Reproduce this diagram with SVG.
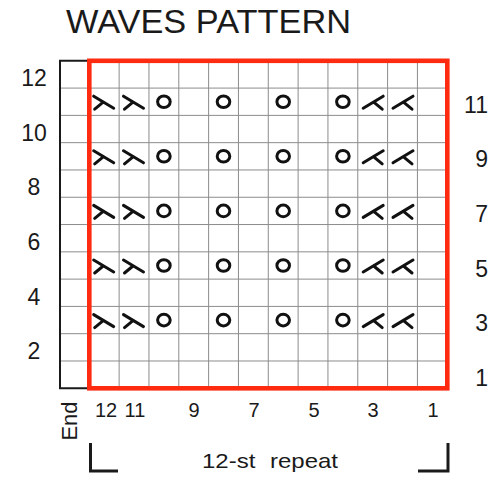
<svg xmlns="http://www.w3.org/2000/svg" width="490" height="480" viewBox="0 0 490 480">
<style>
  .t { font-family: "Liberation Sans", Arial, Helvetica, sans-serif; fill: #1a1a1a; }
  .lbl { font-size: 23px; }
  .bot { font-size: 20px; text-anchor: middle; }
  .grid { stroke: #8c8c8c; stroke-width: 1; fill: none; }
  .sym { stroke: #111; stroke-width: 3; fill: none; stroke-linecap: round; stroke-linejoin: round; }
  .frame { stroke: #1a1a1a; stroke-width: 2; fill: none; }
  .red { stroke: #fe2b10; stroke-width: 4.6; fill: none; }
  .brk { stroke: #1a1a1a; stroke-width: 3; fill: none; }
</style>
<defs>
  <g id="ssk" class="sym"><path d="M-10.5,-5.5 L9.5,6.5 M-1,0.5 L-9.5,7.5"/></g>
  <g id="k2tog" class="sym"><path d="M10.5,-5.5 L-9.5,6.5 M1,0.5 L9.5,7.5"/></g>
  <g id="yo" class="sym"><ellipse cx="0" cy="0" rx="6.3" ry="5.8"/></g>
</defs>
<rect x="0" y="0" width="490" height="480" fill="#ffffff"/>

<g id="title"><text class="t" x="66" y="33" font-size="33" textLength="285" lengthAdjust="spacingAndGlyphs">WAVES PATTERN</text></g>

<g id="grid">
  <path class="grid" d="M119.13,60.8V388.3 M148.96,60.8V388.3 M178.79,60.8V388.3 M208.62,60.8V388.3 M238.45,60.8V388.3 M268.28,60.8V388.3 M298.11,60.8V388.3 M327.94,60.8V388.3 M357.77,60.8V388.3 M387.6,60.8V388.3 M417.43,60.8V388.3"/>
  <path class="grid" d="M60,88.09H447.3 M60,115.38H447.3 M60,142.67H447.3 M60,169.96H447.3 M60,197.25H447.3 M60,224.54H447.3 M60,251.83H447.3 M60,279.12H447.3 M60,306.41H447.3 M60,333.7H447.3 M60,360.99H447.3"/>
  <path class="frame" d="M89,60.8H60V388.3H89"/>
  <rect class="red" x="89.3" y="60.8" width="358" height="327.5"/>
</g>

<g id="symbols">
  <g id="row11">
    <use href="#ssk" x="104.2" y="101.7"/><use href="#ssk" x="134" y="101.7"/><use href="#yo" x="163.9" y="101.7"/>
    <use href="#yo" x="223.5" y="101.7"/><use href="#yo" x="283.2" y="101.7"/><use href="#yo" x="342.9" y="101.7"/>
    <use href="#k2tog" x="372.7" y="101.7"/><use href="#k2tog" x="402.5" y="101.7"/>
  </g>
  <g id="row9">
    <use href="#ssk" x="104.2" y="156.3"/><use href="#ssk" x="134" y="156.3"/><use href="#yo" x="163.9" y="156.3"/>
    <use href="#yo" x="223.5" y="156.3"/><use href="#yo" x="283.2" y="156.3"/><use href="#yo" x="342.9" y="156.3"/>
    <use href="#k2tog" x="372.7" y="156.3"/><use href="#k2tog" x="402.5" y="156.3"/>
  </g>
  <g id="row7">
    <use href="#ssk" x="104.2" y="210.9"/><use href="#ssk" x="134" y="210.9"/><use href="#yo" x="163.9" y="210.9"/>
    <use href="#yo" x="223.5" y="210.9"/><use href="#yo" x="283.2" y="210.9"/><use href="#yo" x="342.9" y="210.9"/>
    <use href="#k2tog" x="372.7" y="210.9"/><use href="#k2tog" x="402.5" y="210.9"/>
  </g>
  <g id="row5">
    <use href="#ssk" x="104.2" y="265.5"/><use href="#ssk" x="134" y="265.5"/><use href="#yo" x="163.9" y="265.5"/>
    <use href="#yo" x="223.5" y="265.5"/><use href="#yo" x="283.2" y="265.5"/><use href="#yo" x="342.9" y="265.5"/>
    <use href="#k2tog" x="372.7" y="265.5"/><use href="#k2tog" x="402.5" y="265.5"/>
  </g>
  <g id="row3">
    <use href="#ssk" x="104.2" y="320.1"/><use href="#ssk" x="134" y="320.1"/><use href="#yo" x="163.9" y="320.1"/>
    <use href="#yo" x="223.5" y="320.1"/><use href="#yo" x="283.2" y="320.1"/><use href="#yo" x="342.9" y="320.1"/>
    <use href="#k2tog" x="372.7" y="320.1"/><use href="#k2tog" x="402.5" y="320.1"/>
  </g>
</g>

<g id="left-labels" class="t lbl" text-anchor="middle">
  <text x="34" y="86">12</text>
  <text x="34" y="141">10</text>
  <text x="34" y="195">8</text>
  <text x="34" y="250">6</text>
  <text x="34" y="305">4</text>
  <text x="34" y="359">2</text>
</g>

<g id="right-labels" class="t lbl" text-anchor="end">
  <text x="488" y="113">11</text>
  <text x="488" y="167">9</text>
  <text x="488" y="222">7</text>
  <text x="488" y="277">5</text>
  <text x="488" y="331">3</text>
  <text x="488" y="386">1</text>
</g>

<g id="bottom-labels" class="t bot">
  <text x="106" y="416.5">12</text>
  <text x="135" y="416.5">11</text>
  <text x="194" y="416.5">9</text>
  <text x="254" y="416.5">7</text>
  <text x="314" y="416.5">5</text>
  <text x="373" y="416.5">3</text>
  <text x="433" y="416.5">1</text>
</g>

<g id="end-label"><text class="t" font-size="22" text-anchor="middle" transform="translate(77,421) rotate(-90)">End</text></g>

<g id="repeat">
  <path class="brk" d="M90.5,443V471H118"/>
  <path class="brk" d="M448,443V471H418"/>
  <text class="t" x="202" y="468" font-size="21" word-spacing="7" textLength="136" lengthAdjust="spacingAndGlyphs">12-st repeat</text>
</g>
</svg>
